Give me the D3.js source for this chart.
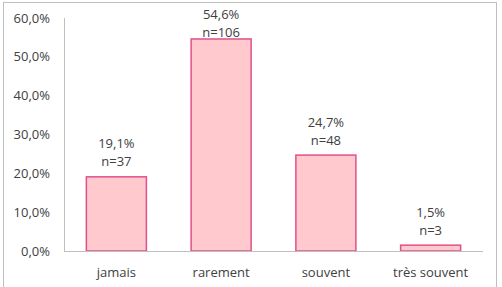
<!DOCTYPE html>
<html>
<head>
<meta charset="utf-8">
<script src="https://cdn.jsdelivr.net/npm/d3@7"></script>
<style>
    body { margin: 0; background: #fff; }
    text { font-family: "Open Sans", Lato, sans-serif; fill: #404040; }
</style>
</head>
<body>
<div id="chart"></div>
<script>
const WIDTH = 502;
const HEIGHT = 287;
const MARGIN = { top: 18, right: 19, bottom: 36, left: 64 };
const FONT_SIZE = '13px';

// Data
const categories = ['jamais', 'rarement', 'souvent', 'très souvent'];
const percents = [19.1, 54.6, 24.7, 1.5];
const counts = [37, 106, 48, 3];
const yTicks = [0, 10, 20, 30, 40, 50, 60];

const svg = d3.select('#chart')
    .append('svg')
    .attr('width', WIDTH)
    .attr('height', HEIGHT);

// Outer frame
svg.append('rect')
    .attr('x', 3.5)
    .attr('y', 2.5)
    .attr('width', 493)
    .attr('height', 300)
    .style('fill', 'none')
    .style('stroke', '#bfbfbf');

const g = svg.append('g')
    .attr('transform', `translate(${MARGIN.left},${MARGIN.top})`);

const w = WIDTH - MARGIN.left - MARGIN.right;
const h = HEIGHT - MARGIN.top - MARGIN.bottom;

const x = d3.scaleBand().domain(categories).range([0, w]).paddingInner(0.427).paddingOuter(0.2135);
const y = d3.scaleLinear().domain([0, 60]).range([h, 0]);

// Y axis line
g.append('line')
    .attr('x1', 0.5).attr('x2', 0.5)
    .attr('y1', y(60)).attr('y2', y(0))
    .style('stroke', '#bfbfbf');

// Y tick labels
g.selectAll('text.ytick')
    .data(yTicks)
    .enter()
    .append('text')
    .attr('class', 'ytick')
    .attr('x', -14)
    .attr('y', d => y(d))
    .attr('dy', '0.35em')
    .style('text-anchor', 'end')
    .style('font-size', FONT_SIZE)
    .text(d => d3.format('.1f')(d).replace('.', ',') + '%');

const data = categories.map((c, i) => ({ cat: c, pct: percents[i], n: counts[i] }));

// Bars
g.selectAll('rect.bar')
    .data(data)
    .enter()
    .append('rect')
    .attr('class', 'bar')
    .attr('x', d => x(d.cat))
    .attr('y', d => y(d.pct))
    .attr('width', x.bandwidth())
    .attr('height', d => y(0) - y(d.pct))
    .style('fill', '#ffc9cd')
    .style('stroke', '#e2508a')
    .style('stroke-width', 1.5);

// X axis line
g.append('line')
    .attr('x1', 0).attr('x2', w)
    .attr('y1', y(0) + 0.5).attr('y2', y(0) + 0.5)
    .style('stroke', '#bfbfbf');

// X labels
g.selectAll('text.xlabel')
    .data(categories)
    .enter()
    .append('text')
    .attr('class', 'xlabel')
    .attr('x', d => x(d) + x.bandwidth() / 2)
    .attr('y', y(0) + 21)
    .attr('dy', '0.35em')
    .style('text-anchor', 'middle')
    .style('font-size', FONT_SIZE)
    .text(d => d);

// Data labels (pushed down if they would leave the chart area)
const labelTop = d => Math.max(y(d.pct) - 33, -4);

const labels = g.selectAll('g.dlabel')
    .data(data)
    .enter()
    .append('g')
    .attr('class', 'dlabel')
    .attr('transform', d => `translate(${x(d.cat) + x.bandwidth() / 2},${labelTop(d)})`);

labels.append('text')
    .attr('y', 0)
    .attr('dy', '0.35em')
    .style('text-anchor', 'middle')
    .style('font-size', FONT_SIZE)
    .text(d => d3.format('.1f')(d.pct).replace('.', ',') + '%');

labels.append('text')
    .attr('y', 18)
    .attr('dy', '0.35em')
    .style('text-anchor', 'middle')
    .style('font-size', FONT_SIZE)
    .text(d => 'n=' + d.n);
</script>
</body>
</html>
